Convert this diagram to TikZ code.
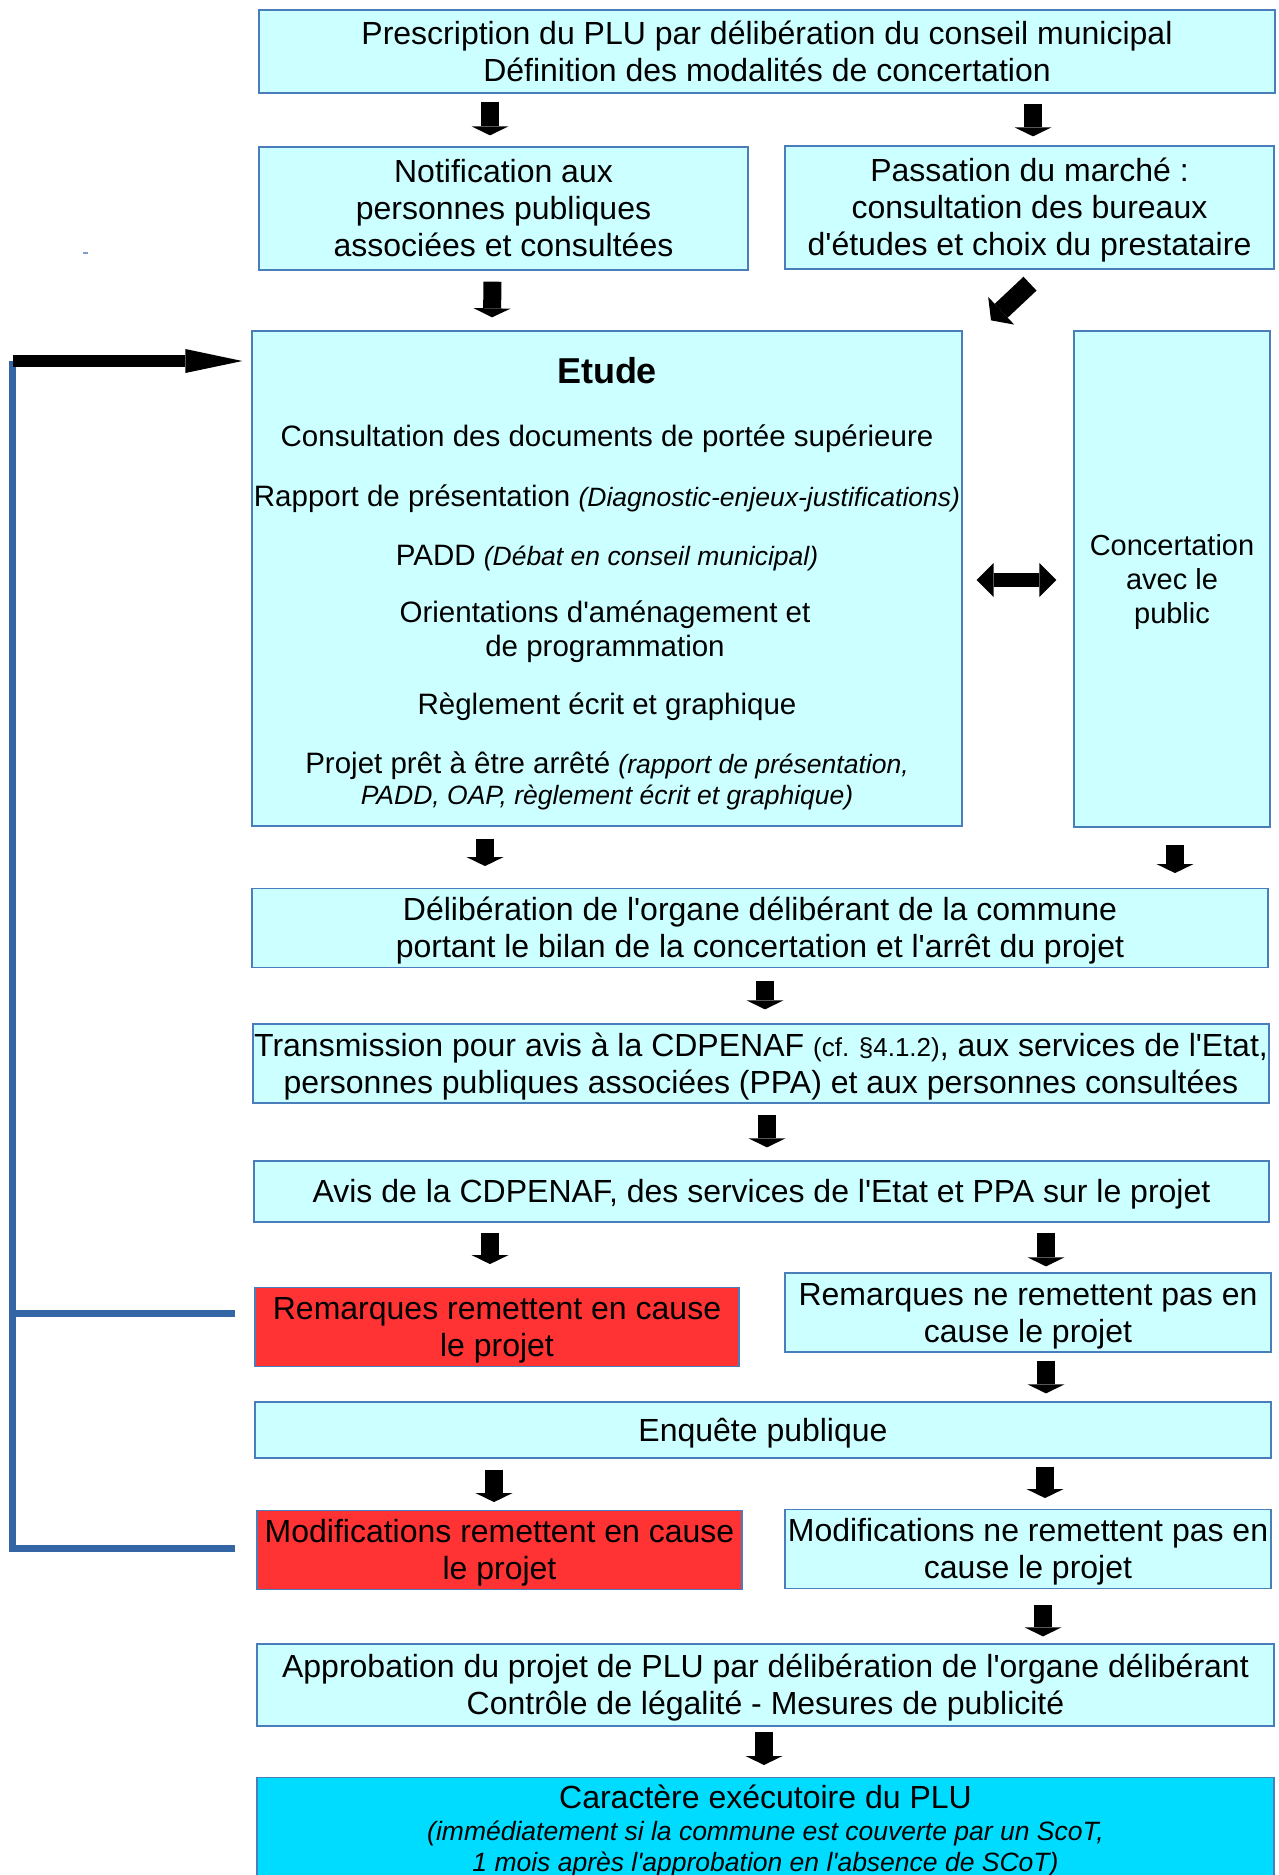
\documentclass[tikz,border=0pt]{standalone}
\usepackage{fontspec}
\setmainfont{Liberation Sans}[Ligatures=TeXOff]
\usetikzlibrary{arrows.meta,calc}
\definecolor{boxfill}{RGB}{204,255,255}
\definecolor{boxline}{RGB}{74,126,187}
\definecolor{boxred}{RGB}{255,51,51}
\definecolor{caracfill}{RGB}{0,220,255}
\definecolor{fbblue}{RGB}{52,101,164}
\definecolor{markgray}{RGB}{130,155,205}
\newcommand{\hsa}{\rule{0pt}{32pt}}
\newcommand{\hsb}{\rule{0pt}{29pt}}
\tikzset{
  strutA/.style={execute at begin node={\rule{0pt}{32pt}}, execute at end node={\rule[-9.6pt]{0pt}{9.6pt}}},
  strutB/.style={execute at begin node={\rule{0pt}{29pt}}, execute at end node={\rule[-8.7pt]{0pt}{8.7pt}}},
  boxbase/.style={draw=boxline, line width=1.3pt, fill=boxfill, inner sep=0pt, align=center},
  box/.style={boxbase, font=\fontsize{32}{37}\selectfont, strutA},
  cbox/.style={boxbase, font=\fontsize{29}{34}\selectfont, strutB},
  redbox/.style={box, fill=boxred},
  etxt/.style={inner sep=0pt, align=center, font=\fontsize{29.5}{34}\selectfont},
  etxts/.style={etxt, strutB},
  dn/.style={line width=18pt, draw=black, -{Triangle[width=37pt,length=9pt,line width=0pt]}},
  diag/.style={line width=19pt, draw=black, -{Triangle[width=38pt,length=14pt,line width=0pt]}},
  dbl/.style={line width=14pt, draw=black, {Triangle[width=34pt,length=17pt,line width=0pt]}-{Triangle[width=34pt,length=17pt,line width=0pt]}},
  fbarrow/.style={line width=12pt, draw=black, -{Triangle[width=24pt,length=57pt,line width=0pt]}},
  fbline/.style={line width=7pt, draw=fbblue}
}
\newcommand{\smit}[1]{{\fontsize{26.5}{31}\selectfont\itshape #1}}
\begin{document}
\begin{tikzpicture}[x=1pt,y=-1pt]
\useasboundingbox (0,0) rectangle (1278,1875);
% tiny mark
\fill[markgray] (83,252) rectangle (88,254);

% boxes
\node[box, minimum width=1016pt, minimum height=83pt] (top) at (767,51.5)
  {\hsa Prescription du PLU par délibération du conseil municipal\\Définition des modalités de concertation};
\node[box, minimum width=489pt, minimum height=123pt] (notif) at (503.5,208.5)
  {\hsa Notification aux\\personnes publiques\\associées et consultées};
\node[box, minimum width=489pt, minimum height=123pt] (pass) at (1029.5,207.5)
  {\hsa Passation du marché :\\consultation des bureaux\\d'études et choix du prestataire};
\node[boxbase, minimum width=710pt, minimum height=495pt] (etude) at (607,578.5) {};
\node[cbox, minimum width=196pt, minimum height=496pt] (conc) at (1172,579)
  {\hsb Concertation\\avec le\\public};
\node[box, minimum width=1016pt, minimum height=74pt] (delib) at (760,928)
  {\hsa Délibération de l'organe délibérant de la commune\\portant le bilan de la concertation et l'arrêt du projet};
\node[box, minimum width=1016pt, minimum height=79pt] (trans) at (761,1063.5)
  {\hsa Transmission pour avis à la CDPENAF {\fontsize{26}{31}\selectfont(cf. §4.1.2)}, aux services de l'Etat,\\personnes publiques associées (PPA) et aux personnes consultées};
\node[box, minimum width=1015pt, minimum height=61pt] (avis) at (761.5,1191.5)
  {Avis de la CDPENAF, des services de l'Etat et PPA sur le projet};
\node[redbox, minimum width=484pt, minimum height=78pt] (rem) at (497,1327)
  {\hsa Remarques remettent en cause\\le projet};
\node[box, minimum width=486pt, minimum height=79pt] (remne) at (1028,1312.5)
  {\hsa Remarques ne remettent pas en\\cause le projet};
\node[box, minimum width=1016pt, minimum height=56pt] (enq) at (763,1430)
  {Enquête publique};
\node[redbox, minimum width=485pt, minimum height=78pt] (modif) at (499.5,1550)
  {\hsa Modifications remettent en cause\\le projet};
\node[box, minimum width=486pt, minimum height=78pt] (modifne) at (1028,1549)
  {\hsa Modifications ne remettent pas en\\cause le projet};
\node[box, minimum width=1017pt, minimum height=82pt] (appro) at (765.5,1685)
  {\hsa Approbation du projet de PLU par délibération de l'organe délibérant\\Contrôle de légalité - Mesures de publicité};
\node[boxbase, fill=caracfill, minimum width=1017pt, minimum height=118pt, anchor=north] (carac) at (765.5,1777) {};

% Etude contents
\node[etxt, font=\fontsize{36}{40}\selectfont\bfseries] (et0) at (607,371) {Etude};
\node[etxts] (et1) at (607,436) {Consultation des documents de portée supérieure};
\node[etxts] (et2) at (607,496) {Rapport de présentation \smit{(Diagnostic-enjeux-justifications)}};
\node[etxts] (et3) at (607,555) {PADD \smit{(Débat en conseil municipal)}};
\node[etxts] (et4) at (605,629) {\hsb Orientations d'aménagement et\\de programmation};
\node[etxts] (et5) at (607,704) {Règlement écrit et graphique};
\node[etxts] (et6) at (607,763) {Projet prêt à être arrêté \smit{(rapport de présentation,}};
\node[etxts] (et7) at (607,794) {\smit{PADD, OAP, règlement écrit et graphique)}};

% Caractere contents
\node[etxt, font=\fontsize{32}{37}\selectfont, strutA] (ca1) at (765.5,1797) {Caractère exécutoire du PLU};
\node[etxts] (ca2) at (765.5,1830) {\smit{(immédiatement si la commune est couverte par un ScoT,}};
\node[etxts] (ca3) at (765.5,1861) {\smit{1 mois après l'approbation en l'absence de SCoT)}};

% block arrows
\draw[dn] ($(top.south)+(-277,8)$) -- ($(notif.north)+(-13.5,-11)$);
\draw[dn] ($(top.south)+(266,10)$) -- ($(pass.north)+(3.5,-9)$);
\draw[dn] ($(notif.south)+(-11,11)$) -- ($(etude.north)+(-115,-13)$);
\draw[diag] ($(pass.south)+(0.5,14)$) -- ($(etude.north)+(384,-10)$);
\draw[dbl] ($(etude.east)+(14,1.5)$) -- ($(conc.west)+(-17,1)$);
\draw[dn] ($(etude.south)+(-122,12)$) -- ($(delib.north)+(-275,-22)$);
\draw[dn] ($(conc.south)+(3,17)$) -- ($(delib.north)+(415,-15)$);
\draw[dn] ($(delib.south)+(5,13)$) -- ($(trans.north)+(4,-14)$);
\draw[dn] ($(trans.south)+(6,11)$) -- ($(avis.north)+(5.5,-13)$);
\draw[dn] ($(avis.south)+(-271.5,10)$) -- ($(rem.north)+(-7,-23)$);
\draw[dn] ($(avis.south)+(284.5,10)$) -- ($(remne.north)+(18,-6)$);
\draw[dn] ($(remne.south)+(18,8)$) -- ($(enq.north)+(283,-8)$);
\draw[dn] ($(enq.south)+(-269,11)$) -- ($(modif.north)+(-5.5,-8)$);
\draw[dn] ($(enq.south)+(282,8)$) -- ($(modifne.north)+(17,-11)$);
\draw[dn] ($(modifne.south)+(15,16)$) -- ($(appro.north)+(277.5,-7)$);
\draw[dn] ($(appro.south)+(-1.5,5)$) -- ($(carac.north)+(-1.5,-12)$);

% feedback loop
\coordinate (fbtop) at (12.5,361);
\coordinate (remfb) at ($(rem.west)+(-19,-14)$);
\coordinate (modfb) at ($(modif.west)+(-21,-1.5)$);
\draw[fbline] (modfb) -| (fbtop);
\draw[fbline] (remfb) -- (remfb -| fbtop);
\draw[fbarrow] (fbtop) -- ($(etude.west |- fbtop)+(-9,0)$);
\end{tikzpicture}
\end{document}
